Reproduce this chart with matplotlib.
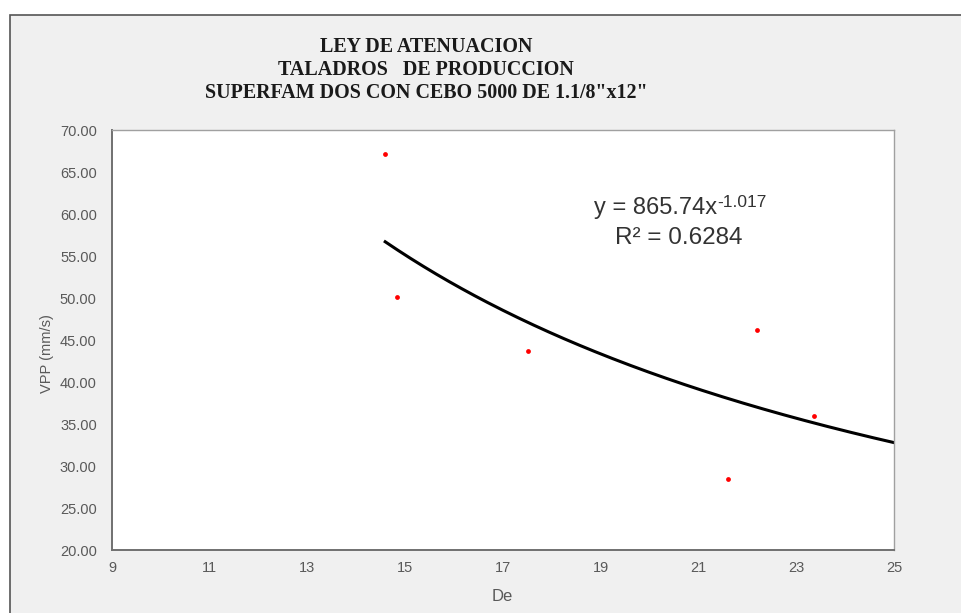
import matplotlib
matplotlib.use("Agg")
import matplotlib.pyplot as plt
from matplotlib.patches import Rectangle
import numpy as np

# data
de = [14.59, 14.84, 17.52, 21.61, 22.19, 23.37]
vpp = [67.2, 50.1, 43.7, 28.5, 46.2, 36.0]

# power trend line as printed on the chart
coef_a = 865.74
coef_b = -1.017
r2 = 0.6284

x_ticks = [9, 11, 13, 15, 17, 19, 21, 23, 25]
y_ticks = [20, 25, 30, 35, 40, 45, 50, 55, 60, 65, 70]

title_lines = ["LEY DE ATENUACION", "TALADROS   DE PRODUCCION",
               'SUPERFAM DOS CON CEBO 5000 DE 1.1/8"x12"']

W, H = 961, 613
fig = plt.figure(figsize=(W / 100, H / 100), dpi=100)
fig.patch.set_facecolor("white")

# chart area (cropped on right and bottom in the reference)
fig.patches.append(Rectangle((10 / W, -0.05), 1.1, 1 - 15 / H + 0.05,
                             transform=fig.transFigure, facecolor="#f0f0f0",
                             edgecolor="#555555", linewidth=1.2, zorder=-5))

ax = fig.add_axes([112 / W, 1 - 550 / H, (894 - 112) / W, (550 - 130) / H])
ax.set_facecolor("white")

ax.scatter(de, vpp, s=12, color="red", marker="o", linewidths=0, zorder=3)

xs = np.linspace(min(de), 25, 200)
ax.plot(xs, coef_a * xs ** coef_b, color="black", linewidth=2.2, zorder=2)

ax.set_xlim(9, 25)
ax.set_ylim(20, 70)
ax.set_xticks(x_ticks)
ax.set_yticks(y_ticks)
ax.set_yticklabels([f"{v:.2f}" for v in y_ticks])
ax.tick_params(axis="y", length=0, labelsize=10.5, colors="#595959", pad=11)
ax.tick_params(axis="x", length=0, labelsize=10.5, colors="#595959", pad=8)
for lab in ax.get_xticklabels() + ax.get_yticklabels():
    lab.set_fontfamily("Liberation Sans")

for side in ["top", "right"]:
    ax.spines[side].set_color("#a0a0a0")
    ax.spines[side].set_linewidth(1.0)
for side in ["left", "bottom"]:
    ax.spines[side].set_color("#707070")
    ax.spines[side].set_linewidth(1.4)

ax.set_ylabel("VPP (mm/s)", fontsize=10.5, color="#595959",
              fontfamily="Liberation Sans")
ax.yaxis.set_label_coords(-58 / 782, 0.467)
ax.set_xlabel("De", fontsize=12, color="#595959",
              fontfamily="Liberation Sans")
ax.xaxis.set_label_coords(0.499, -39 / 420)

for i, line in enumerate(title_lines):
    fig.text(426 / W, 1 - (47 + 23 * i) / H, line, ha="center", va="center",
             fontsize=14.4, fontweight="bold", fontfamily="Liberation Serif",
             color="#1a1a1a")

fig.text(717 / W, 1 - 208 / H, "y = 865.74x", ha="right", va="center",
         fontsize=17, color="#333333", fontfamily="Liberation Sans")
fig.text(717 / W, 1 - 207 / H, f"{coef_b}", ha="left", va="baseline",
         fontsize=12.5, color="#333333", fontfamily="Liberation Sans")
fig.text(679 / W, 1 - 238 / H, f"R² = {r2}", ha="center", va="center",
         fontsize=17.5, color="#333333", fontfamily="Liberation Sans")

fig.savefig("out.png", dpi=100)
